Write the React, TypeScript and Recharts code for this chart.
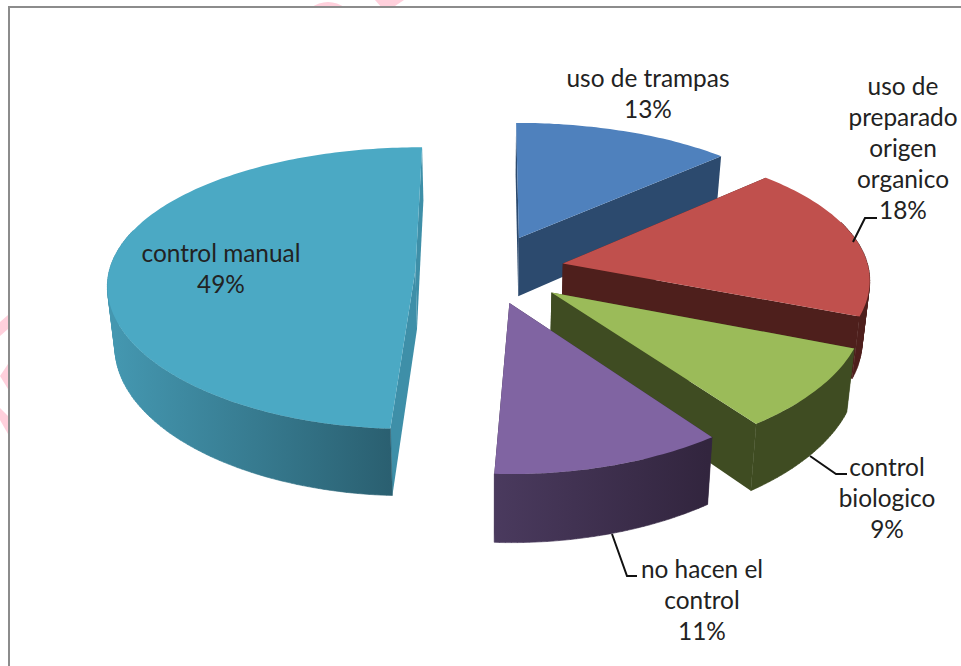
import { PieChart, Pie } from 'recharts';

// chart data, clockwise from twelve o'clock (labels show these rounded)
const sliceNames = ['uso de trampas', 'uso de preparado origen organico', 'control biologico', 'no hacen el control', 'control manual'];
const sliceValues = [13, 18, 9, 10.8, 49.2];
const labelLines = [
  ['uso de trampas'],
  ['uso de', 'preparado', 'origen', 'organico'],
  ['control', 'biologico'],
  ['no hacen el', 'control'],
  ['control manual'],
];

const data = sliceNames.map((name, i) => ({ name, value: sliceValues[i] }));

// per slice styling
const TOP_COLORS = ['#4F81BD', '#C0504D', '#9BBB59', '#8064A2', '#4BA9C4'];
const SIDE_COLORS = ['#2C4A6E', '#4E1F1C', '#3F4C22', '#33263F', '#3E8FA8'];
const RIM_FROM = ['#2C4A6E', '#4E1F1C', '#3F4C22', '#4A3A5E', '#4497B0'];
const RIM_TO = ['#2C4A6E', '#4E1F1C', '#3F4C22', '#32253E', '#2A5F70'];
const EXPLODE = [0.26, 0.25, 0.258, 0.24, 0.237];

// label placement: centre x, first baseline y, optional leader line
const LABEL_LAYOUT = [
  { x: 648, y: 87, leader: '' },
  { x: 903, y: 95, leader: '853,242 865,218 877,218' },
  { x: 887, y: 476, leader: '810,456 836,474 847,474' },
  { x: 702, y: 578, leader: '612,534 627,576 637,576' },
  { x: 221, y: 262, leader: '' },
];

// fake 3D projection of the pie disc
const CX = 488;
const CY = 270;
const RADIUS = 306;
const TILT = 0.4526;
const PERSP_X = 0.1;
const PERSP_Y = 0.134;
const DEPTH = 60;
const DEPTH_PERSP = 7;
const BOTTOM_SCALE = 0.98;

const rad = (deg: number) => (deg * Math.PI) / 180;

const project = (cx: number, cy: number, r: number, wx: number, wy: number, bottom: boolean) => {
  let x = cx + (r * wx) / (1 + PERSP_X * wy);
  let y = cy - (r * TILT * wy) / (1 + PERSP_Y * wy);
  if (bottom) {
    x = cx + (x - cx) * BOTTOM_SCALE;
    y += DEPTH - DEPTH_PERSP * wy;
  }
  return [x, y];
};

const toPoints = (pts: number[][]) => pts.map((p) => `${p[0].toFixed(1)},${p[1].toFixed(1)}`).join(' ');

// all quads wound the same way so the union fills without holes
const quadPath = (pts: number[][]) => {
  let area = 0;
  pts.forEach((p, n) => {
    const q = pts[(n + 1) % pts.length];
    area += p[0] * q[1] - q[0] * p[1];
  });
  const ordered = area < 0 ? pts.slice().reverse() : pts;
  return `M${ordered.map((p) => `${p[0].toFixed(1)} ${p[1].toFixed(1)}`).join('L')}Z`;
};

const Slice3D = (props: any) => {
  const { cx, cy, outerRadius, startAngle, endAngle, name } = props;
  const i = sliceNames.indexOf(name ?? props.payload?.name);
  // recharts angles run counter clockwise from 3 o'clock, turn them into clockwise from the top
  const from = 90 - startAngle;
  const to = 90 - endAngle;
  const mid = (from + to) / 2;
  const ax = EXPLODE[i] * Math.sin(rad(mid));
  const ay = EXPLODE[i] * Math.cos(rad(mid));

  const pt = (th: number, bottom: boolean) =>
    project(cx, cy, outerRadius, ax + Math.sin(rad(th)), ay + Math.cos(rad(th)), bottom);
  const apex = (bottom: boolean) => project(cx, cy, outerRadius, ax, ay, bottom);

  const angles: number[] = [];
  for (let th = from; th < to; th += 1) angles.push(th);
  angles.push(to);

  const arcTop = angles.map((th) => pt(th, false));
  const arcBottom = angles.map((th) => pt(th, true));
  // the far part of the rim faces away from the viewer, skip it
  const faces = (th: number) => Math.cos(rad(th)) < 0.3;
  const rim = angles
    .slice(1)
    .map((th, n) => (faces(th) ? quadPath([arcTop[n], arcTop[n + 1], arcBottom[n + 1], arcBottom[n]]) : ''))
    .join('');
  const xs = arcBottom.filter((_, n) => faces(angles[n])).map((p) => p[0]);
  const x1 = xs.length ? Math.min(...xs) : cx;
  const x2 = xs.length ? Math.max(...xs) : cx + 1;

  const gradId = `rim-${i}`;
  const side = SIDE_COLORS[i];
  return (
    <g>
      <defs>
        <linearGradient id={gradId} gradientUnits="userSpaceOnUse" x1={x1} x2={x2} y1="0" y2="0">
          <stop offset="0%" stopColor={RIM_FROM[i]} />
          <stop offset="100%" stopColor={RIM_TO[i]} />
        </linearGradient>
      </defs>
      <polygon points={toPoints([apex(false), pt(from, false), pt(from, true), apex(true)])} fill={side} />
      <polygon points={toPoints([apex(false), pt(to, false), pt(to, true), apex(true)])} fill={side} />
      <path d={rim} fill={`url(#${gradId})`} stroke={`url(#${gradId})`} strokeWidth={0.6} />
      <polygon points={toPoints([apex(false), ...arcTop])} fill={TOP_COLORS[i]} />
    </g>
  );
};

const renderLabel = (props: any) => {
  const i = sliceNames.indexOf(props.name ?? props.payload?.name);
  const layout = LABEL_LAYOUT[i];
  const lines = [...labelLines[i], `${Math.round(sliceValues[i])}%`];
  return (
    <text x={layout.x} y={layout.y} textAnchor="middle" fontFamily="Lato" fontSize={24.4} fill="#222222">
      {lines.map((line, n) => (
        <tspan key={line} x={layout.x} dy={n === 0 ? 0 : 31}>
          {line}
        </tspan>
      ))}
    </text>
  );
};

const renderLeader = (props: any) => {
  const i = sliceNames.indexOf(props.name ?? props.payload?.name);
  const leader = LABEL_LAYOUT[i].leader;
  if (!leader) return <g />;
  return <polyline points={leader} fill="none" stroke="#111111" strokeWidth={2} />;
};

export default function App() {
  return (
    <div style={{ position: 'absolute', left: 0, top: 0, width: 961, height: 666, overflow: 'hidden', background: '#fff' }}>
      {/* bits of the watermark that stick out behind the picture */}
      <svg width={961} height={666} style={{ position: 'absolute', left: 0, top: 0 }}>
        <g fill="#FFD0DC">
          <path d="M310,8 Q328,-4 346,8 Z" />
          <path d="M375,0 L382,8 L392,8 L404,0 Z" />
          <path d="M0,322 L8,315 L8,329 L0,336 Z" />
          <path d="M0,376 L8,364 L8,389 Z" />
          <path d="M0,420 L0,408 L8,416 L8,434 Z" />
        </g>
      </svg>
      <div
        style={{
          position: 'absolute',
          left: 8,
          top: 6,
          width: 953,
          height: 660,
          boxSizing: 'border-box',
          background: '#fff',
          borderLeft: '2px solid #8C8C8C',
          borderTop: '2px solid #8C8C8C',
        }}
      />
      <div style={{ position: 'absolute', left: 0, top: 0 }}>
        <PieChart width={961} height={666} margin={{ top: 0, right: 0, bottom: 0, left: 0 }}>
          <Pie
            data={data}
            dataKey="value"
            nameKey="name"
            cx={CX}
            cy={CY}
            innerRadius={0}
            outerRadius={RADIUS}
            startAngle={90}
            endAngle={-270}
            paddingAngle={0}
            stroke="none"
            shape={Slice3D}
            inactiveShape={Slice3D}
            label={renderLabel}
            labelLine={renderLeader}
            isAnimationActive={false}
          />
        </PieChart>
      </div>
    </div>
  );
}
